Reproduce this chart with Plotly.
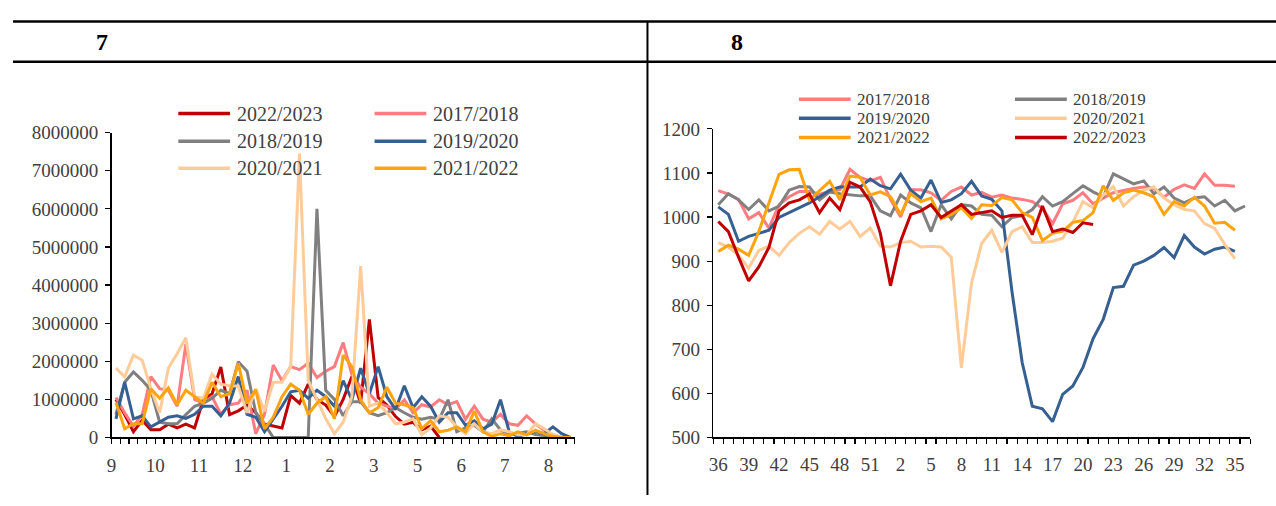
import plotly.graph_objects as go

W, H = 1276, 506

# ---------------- Left panel (7): weekly values, Sep -> Aug ----------------
left_month_labels = ["9", "10", "11", "12", "1", "2", "3", "5", "6", "7", "8"]
left_y_ticks = [0, 1000000, 2000000, 3000000, 4000000, 5000000, 6000000, 7000000, 8000000]
left_n_weeks = 53

left_2022_2023 = [1000000, 600000, 150000, 450000, 200000, 200000, 350000, 250000, 350000, 250000,
                  1000000, 1150000, 1850000, 600000, 700000, 850000, 650000, 350000, 300000, 250000,
                  1100000, 900000, 1400000, 1000000, 850000, 550000, 1000000, 1600000, 900000, 3100000,
                  1050000, 850000, 550000, 350000, 400000, 200000, 300000, 0]
left_2017_2018 = [1050000, 650000, 300000, 600000, 1600000, 1280000, 1240000, 820000, 2450000, 1000000,
                  900000, 1070000, 610000, 860000, 900000, 1240000, 100000, 610000, 1900000, 1490000,
                  1860000, 1780000, 1950000, 1570000, 1740000, 1860000, 2490000, 1650000, 1320000, 1150000,
                  900000, 820000, 750000, 990000, 650000, 860000, 800000, 990000, 860000, 940000,
                  480000, 820000, 480000, 400000, 610000, 360000, 320000, 570000, 360000, 190000,
                  70000, 0, 0]
left_2018_2019 = [600000, 1450000, 1720000, 1500000, 1240000, 400000, 360000, 360000, 600000, 820000,
                  900000, 1030000, 1240000, 1150000, 1990000, 1740000, 650000, 350000, 0, 0,
                  0, 0, 0, 6000000, 1240000, 1000000, 570000, 940000, 940000, 650000,
                  570000, 650000, 780000, 650000, 530000, 480000, 530000, 480000, 990000, 150000,
                  250000, 320000, 150000, 490000, 200000, 70000, 110000, 150000, 80000, 50000,
                  30000, 0, 0]
left_2019_2020 = [490000, 1450000, 490000, 570000, 280000, 400000, 530000, 570000, 500000, 610000,
                  820000, 820000, 570000, 900000, 1600000, 610000, 530000, 150000, 490000, 820000,
                  1200000, 1240000, 1030000, 1240000, 1070000, 820000, 1490000, 990000, 1820000, 1150000,
                  1860000, 1070000, 740000, 1360000, 780000, 1070000, 820000, 400000, 650000, 650000,
                  320000, 440000, 230000, 350000, 990000, 150000, 30000, 100000, 170000, 100000,
                  280000, 100000, 0]
left_2020_2021 = [1820000, 1590000, 2160000, 2030000, 1280000, 650000, 1820000, 2200000, 2620000, 1070000,
                  1030000, 1660000, 1400000, 1360000, 1350000, 650000, 1280000, 690000, 1450000, 1450000,
                  1860000, 7450000, 1500000, 1000000, 500000, 100000, 400000, 1070000, 4500000, 820000,
                  900000, 650000, 360000, 400000, 490000, 70000, 250000, 570000, 530000, 280000,
                  100000, 360000, 150000, 100000, 200000, 150000, 70000, 70000, 360000, 230000,
                  80000, 0, 0]
left_2021_2022 = [920000, 230000, 360000, 360000, 1280000, 1030000, 1300000, 860000, 1240000, 1070000,
                  900000, 1450000, 1070000, 1150000, 1950000, 900000, 1250000, 230000, 530000, 1070000,
                  1400000, 1240000, 610000, 900000, 1070000, 490000, 2160000, 1860000, 990000, 650000,
                  780000, 1320000, 900000, 860000, 780000, 230000, 440000, 150000, 190000, 280000,
                  150000, 690000, 150000, 30000, 100000, 50000, 150000, 70000, 190000, 100000,
                  30000, 0, 0]

# ---------------- Right panel (8): week 36 -> week 36 ----------------
right_weeks = list(range(36, 53)) + list(range(1, 37))
right_y_ticks = [500, 600, 700, 800, 900, 1000, 1100, 1200]

right_2017_2018 = [1060, 1052, 1040, 996, 1010, 975, 1028, 1046, 1058, 1058,
                   1052, 1058, 1062, 1108, 1090, 1082, 1090, 1040, 1000, 1062,
                   1062, 1055, 1038, 1058, 1068, 1050, 1056, 1045, 1050, 1043,
                   1040, 1035, 1020, 985, 1030, 1038, 1055, 1030, 1043, 1055,
                   1060, 1065, 1068, 1065, 1045, 1063, 1073, 1065, 1098, 1072,
                   1072, 1070]
right_2018_2019 = [1028, 1053, 1039, 1017, 1039, 1014, 1025, 1061, 1069, 1068,
                   1039, 1057, 1053, 1050, 1048, 1048, 1014, 1003, 1050, 1032,
                   1021, 967, 1028, 996, 1028, 1025, 1006, 1004, 978, 999,
                   1003, 1017, 1046, 1025, 1035, 1053, 1071, 1057, 1046, 1098,
                   1086, 1075, 1082, 1053, 1068, 1043, 1032, 1043, 1046, 1025,
                   1038, 1014, 1025]
right_2019_2020 = [1023, 1006, 945, 956, 963, 970, 999, 1010, 1021, 1032,
                   1046, 1061, 1068, 1068, 1068, 1086, 1071, 1064, 1097, 1061,
                   1043, 1084, 1033, 1039, 1053, 1081, 1048, 1040, 1014, 830,
                   670, 571, 565, 536, 598, 617, 659, 724, 768, 840,
                   843, 891, 900, 913, 931, 908, 958, 932, 916, 927,
                   932, 922]
right_2020_2021 = [942, 932, 913, 884, 924, 934, 913, 942, 963, 978,
                   961, 990, 973, 990, 956, 975, 934, 932, 942, 945,
                   932, 934, 932, 909, 658, 850, 940, 970, 920, 967,
                   978, 942, 942, 945, 952, 988, 1035, 1021, 1050, 1069,
                   1025, 1046, 1061, 1068, 1043, 1028, 1017, 1014, 985, 974,
                   938, 905]
right_2021_2022 = [922, 936, 927, 913, 967, 1032, 1097, 1107, 1108, 1039,
                   1061, 1081, 1039, 1093, 1090, 1050, 1057, 1046, 1006, 1053,
                   1035, 1043, 996, 1006, 1021, 997, 1028, 1026, 1044, 1039,
                   1010, 999, 947, 963, 968, 988, 992, 1010, 1071, 1038,
                   1055, 1061, 1055, 1046, 1006, 1035, 1025, 1045, 1025, 986,
                   988, 970]
right_2022_2023 = [990, 967, 909, 855, 887, 931, 1014, 1032, 1039, 1052,
                   1010, 1043, 1017, 1079, 1068, 1035, 963, 844, 945, 1006,
                   1014, 1028, 999, 1014, 1028, 1006, 1010, 1014, 999, 1004,
                   1004, 960, 1025, 967, 973, 965, 987, 983]

C_2017 = "#FF7C80"
C_2018 = "#808080"
C_2019 = "#376092"
C_2020 = "#FFCC99"
C_2021 = "#FFA30F"
C_2022 = "#C00000"

FONT = "Liberation Serif"
TXT = "#404040"


def fx(px):
    return px / W


def fy(py):
    return 1 - py / H


fig = go.Figure()

left_series = [
    ("2022/2023", left_2022_2023, C_2022),
    ("2017/2018", left_2017_2018, C_2017),
    ("2018/2019", left_2018_2019, C_2018),
    ("2019/2020", left_2019_2020, C_2019),
    ("2020/2021", left_2020_2021, C_2020),
    ("2021/2022", left_2021_2022, C_2021),
]
for name, vals, col in left_series:
    fig.add_trace(go.Scatter(x=[i + 0.5 for i in range(len(vals))], y=vals, mode="lines",
                             name=name, line=dict(color=col, width=3), showlegend=False,
                             hoverinfo="skip", xaxis="x", yaxis="y"))

right_series = [
    ("2017/2018", right_2017_2018, C_2017),
    ("2018/2019", right_2018_2019, C_2018),
    ("2019/2020", right_2019_2020, C_2019),
    ("2020/2021", right_2020_2021, C_2020),
    ("2021/2022", right_2021_2022, C_2021),
    ("2022/2023", right_2022_2023, C_2022),
]
for name, vals, col in right_series:
    fig.add_trace(go.Scatter(x=[i + 0.5 for i in range(len(vals))], y=vals, mode="lines",
                             name=name, line=dict(color=col, width=3), showlegend=False,
                             hoverinfo="skip", xaxis="x2", yaxis="y2"))

tickfont = dict(family=FONT, size=19, color=TXT)
common_axis = dict(showgrid=False, zeroline=False, showline=True, linecolor="black",
                   linewidth=1.5, tickfont=tickfont, tickcolor="black", fixedrange=True)

left_tick_pos = [5 * k for k in range(len(left_month_labels))]
right_tick_idx = list(range(0, len(right_weeks), 3))

fig.update_layout(
    width=W, height=H,
    margin=dict(l=0, r=0, t=0, b=0),
    paper_bgcolor="white", plot_bgcolor="white",
    hovermode=False,
    xaxis=dict(domain=[fx(107), fx(572)], range=[0, left_n_weeks], anchor="y",
               tickmode="array", tickvals=left_tick_pos, ticktext=left_month_labels,
               ticks="outside", ticklen=5, tickwidth=1.2, ticklabelstandoff=5,
               minor=dict(tickmode="linear", tick0=0, dtick=1, ticks="outside", ticklen=5,
                          tickwidth=1.2, tickcolor="black", showgrid=False),
               **common_axis),
    yaxis=dict(domain=[fy(446), fy(128)], range=[0, 8000000], anchor="x",
               tickmode="array", tickvals=left_y_ticks, ticktext=[str(v) for v in left_y_ticks],
               ticks="outside", ticklen=5, tickwidth=1.2, ticklabelstandoff=3,
               **common_axis),
    xaxis2=dict(domain=[fx(711), fx(1250)], range=[0, len(right_weeks)], anchor="y2",
                tickmode="array", tickvals=[i + 0.5 for i in right_tick_idx],
                ticktext=[str(right_weeks[i]) for i in right_tick_idx],
                ticks="", ticklabelstandoff=9,
                minor=dict(tickmode="linear", tick0=0, dtick=1, ticks="outside", ticklen=5,
                           tickwidth=1.2, tickcolor="black", showgrid=False),
                **common_axis),
    yaxis2=dict(domain=[fy(446), fy(124)], range=[500, 1200], anchor="x2",
                tickmode="array", tickvals=right_y_ticks, ticktext=[str(v) for v in right_y_ticks],
                ticks="outside", ticklen=5, tickwidth=1.2, ticklabelstandoff=3,
                **common_axis),
)

shapes = [
    dict(type="line", xref="paper", yref="paper", x0=fx(8), x1=1, y0=fy(12), y1=fy(12),
         line=dict(color="black", width=2.5)),
    dict(type="line", xref="paper", yref="paper", x0=fx(8), x1=1, y0=fy(54), y1=fy(54),
         line=dict(color="black", width=2.5)),
    dict(type="line", xref="paper", yref="paper", x0=fx(645), x1=fx(645), y0=fy(12), y1=0,
         line=dict(color="black", width=2)),
]
annotations = [
    dict(text="<b>7</b>", x=fx(97), y=fy(33), xref="paper", yref="paper", showarrow=False,
         xanchor="center", yanchor="middle", font=dict(family=FONT, size=24, color="black")),
    dict(text="<b>8</b>", x=fx(735), y=fy(33), xref="paper", yref="paper", showarrow=False,
         xanchor="center", yanchor="middle", font=dict(family=FONT, size=24, color="black")),
]

# manual legends (two columns, three rows)
left_legend_rows = [108, 137, 165]
left_legend_cols = [(174, 226, 231), (371, 423, 428)]
for k, (name, vals, col) in enumerate(left_series):
    r, c = divmod(k, 2)
    x0, x1, xt = left_legend_cols[c]
    yy = left_legend_rows[r]
    shapes.append(dict(type="line", xref="paper", yref="paper", x0=fx(x0), x1=fx(x1),
                       y0=fy(yy), y1=fy(yy), line=dict(color=col, width=3.5)))
    annotations.append(dict(text=name, x=fx(xt), y=fy(yy), xref="paper", yref="paper",
                            showarrow=False, xanchor="left", yanchor="middle",
                            font=dict(family=FONT, size=20, color=TXT)))

right_legend_rows = [93, 113, 133]
right_legend_cols = [(797, 849, 853), (1014, 1066, 1070)]
for k, (name, vals, col) in enumerate(right_series):
    r, c = divmod(k, 2)
    x0, x1, xt = right_legend_cols[c]
    yy = right_legend_rows[r]
    shapes.append(dict(type="line", xref="paper", yref="paper", x0=fx(x0), x1=fx(x1),
                       y0=fy(yy), y1=fy(yy), line=dict(color=col, width=3.5)))
    annotations.append(dict(text=name, x=fx(xt), y=fy(yy), xref="paper", yref="paper",
                            showarrow=False, xanchor="left", yanchor="middle",
                            font=dict(family=FONT, size=17, color=TXT)))

fig.update_layout(shapes=shapes, annotations=annotations)
# place the figure flush with the page corner so pixel positions match the target
fig.write_html("out.html",
               config={"displayModeBar": False, "staticPlot": True},
               post_script="document.body.style.margin='0';document.body.style.overflow='hidden';")
